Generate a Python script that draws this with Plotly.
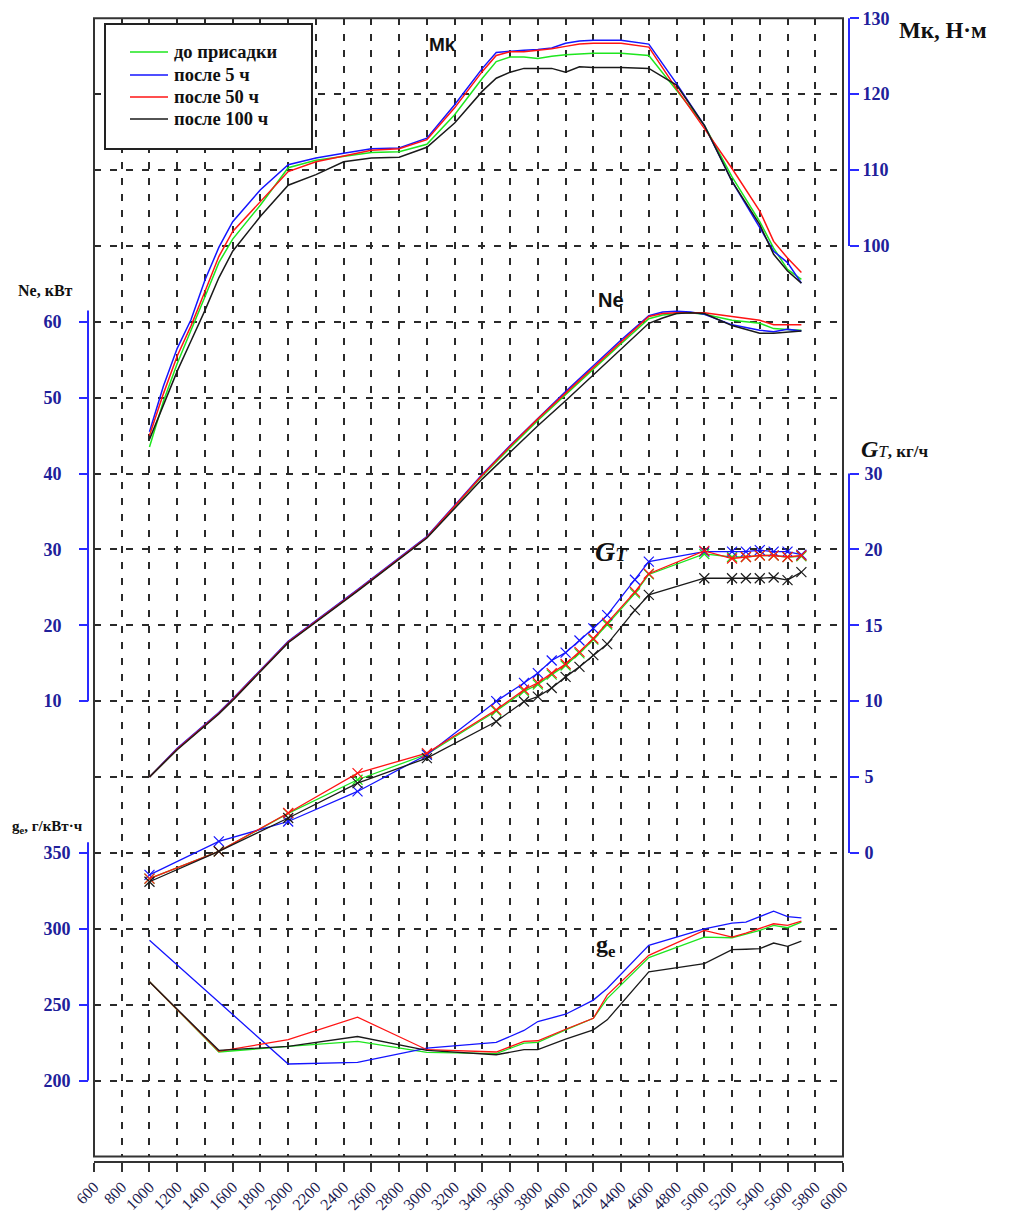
import plotly.graph_objects as go

W, H = 1010, 1214
def px(x): return x / W
def py(y): return 1 - y / H

# ---------------- DATA ----------------
series_names = ["до присадки", "после 5 ч", "после 50 ч", "после 100 ч"]

rpm_mk = [1000, 1100, 1200, 1300, 1400, 1500, 1600, 1800, 2000, 2200, 2400, 2600, 2800, 3000,
          3200, 3400, 3500, 3600, 3700, 3800, 3900, 4000, 4100, 4200, 4400, 4600, 4800, 5000,
          5200, 5400, 5500, 5600, 5700]
mk_green = [73.5, 79.5, 84.5, 88.8, 93.3, 97.8, 100.9, 105.4, 110.3, 111.3, 111.8, 112.3, 112.4, 113.4,
            117.3, 122.1, 124.3, 124.9, 124.9, 124.7, 125.0, 125.2, 125.3, 125.4, 125.4, 125.1, 120.5, 115.9,
            109.1, 103.2, 99.7, 96.9, 95.6]
mk_blue = [75.5, 81.5, 86.5, 90.3, 95.5, 99.8, 103.2, 107.4, 110.7, 111.6, 112.2, 112.8, 112.9, 114.2,
           118.6, 123.4, 125.5, 125.7, 125.8, 125.9, 126.1, 126.7, 127.0, 127.1, 127.1, 126.6, 121.4, 115.9,
           108.5, 102.4, 99.3, 97.8, 95.1]
mk_red = [75.0, 80.5, 85.5, 89.5, 94.0, 98.6, 101.9, 105.9, 109.8, 111.1, 111.9, 112.6, 112.8, 114.0,
          118.2, 123.0, 125.1, 125.6, 125.6, 125.8, 126.0, 126.3, 126.6, 126.7, 126.7, 126.2, 120.7, 115.5,
          110.2, 104.6, 100.6, 98.4, 96.5]
mk_black = [74.5, 79.0, 83.5, 87.5, 91.5, 95.8, 99.3, 103.9, 108.0, 109.4, 111.1, 111.6, 111.7, 113.0,
            116.2, 120.4, 122.1, 122.9, 123.4, 123.4, 123.4, 122.9, 123.6, 123.5, 123.5, 123.4, 121.2, 115.9,
            108.5, 102.8, 98.9, 96.7, 95.1]

rpm_ne = [1000, 1200, 1500, 1600, 2000, 2500, 3000, 3200, 3400, 3600, 3800, 4000, 4200, 4400,
          4600, 4700, 4800, 4900, 5000, 5200, 5400, 5500, 5600, 5700]
ne_green = [0.0, 3.7, 8.4, 10.2, 17.8, 24.6, 31.6, 35.6, 39.7, 43.4, 47.0, 50.4, 53.8, 57.1,
            60.4, 60.9, 61.1, 61.2, 61.0, 60.2, 59.8, 59.1, 59.0, 58.9]
ne_blue = [0.0, 3.8, 8.5, 10.3, 17.9, 24.7, 31.7, 35.8, 39.9, 43.7, 47.3, 50.8, 54.2, 57.6,
           60.8, 61.3, 61.4, 61.3, 61.0, 59.6, 58.9, 58.7, 59.0, 58.8]
ne_red = [0.0, 3.7, 8.4, 10.2, 17.8, 24.6, 31.6, 35.7, 39.8, 43.6, 47.2, 50.6, 54.0, 57.4,
          60.7, 61.1, 61.2, 61.2, 61.2, 60.7, 60.2, 59.6, 59.6, 59.6]
ne_black = [0.0, 3.6, 8.3, 10.1, 17.7, 24.5, 31.5, 35.4, 39.3, 42.8, 46.3, 49.6, 53.0, 56.3,
            59.8, 60.5, 61.1, 61.2, 61.1, 59.5, 58.5, 58.5, 58.7, 58.8]

rpm_gt = [1000, 1500, 2000, 2500, 3000, 3500, 3700, 3800, 3900, 4000, 4100, 4200, 4300, 4500,
          4600, 5000, 5200, 5300, 5400, 5500, 5600, 5700]
gt_green = [-1.7, 0.1, 2.6, 4.82, 6.5, 9.35, 10.65, 11.1, 11.75, 12.35, 13.15, 14.05, 15.05, 17.1,
            18.35, 19.7, 19.5, 19.5, 19.6, 19.6, 19.5, 19.55]
gt_blue = [-1.45, 0.76, 2.07, 4.05, 6.47, 10.0, 11.2, 11.85, 12.68, 13.2, 14.0, 14.8, 15.67, 18.0,
           19.2, 19.85, 19.85, 19.85, 19.95, 19.85, 19.85, 19.65]
gt_red = [-1.7, 0.1, 2.63, 5.26, 6.58, 9.43, 10.75, 11.2, 11.85, 12.45, 13.25, 14.13, 15.16, 17.2,
          18.4, 19.9, 19.4, 19.5, 19.6, 19.6, 19.5, 19.6]
gt_black = [-1.9, 0.1, 2.3, 4.6, 6.25, 8.66, 9.98, 10.3, 10.87, 11.6, 12.26, 13.03, 13.76, 16.0,
            17.0, 18.1, 18.1, 18.1, 18.1, 18.15, 17.98, 18.5]

rpm_ge = [1000, 1500, 2000, 2500, 3000, 3500, 3700, 3800, 4000, 4200, 4300, 4600, 5000, 5200,
          5300, 5400, 5500, 5600, 5700]
ge_green = [265.1, 218.8, 222.5, 225.8, 218.6, 217.7, 224.7, 225.1, 233.4, 241.0, 254.0, 281.0, 294.5,
            294.1, 296.5, 298.9, 302.2, 300.7, 304.4]
ge_blue = [292.4, 251.5, 210.9, 212.0, 221.4, 225.1, 233.0, 238.9, 243.7, 253.0, 260.7, 289.1, 300.0,
           303.7, 304.4, 308.0, 311.6, 308.0, 307.2]
ge_red = [265.1, 219.2, 227.0, 241.7, 220.3, 218.8, 225.8, 226.2, 233.8, 241.0, 256.3, 282.5, 298.9,
          294.5, 297.2, 300.0, 303.3, 302.2, 305.0]
ge_black = [265.1, 219.9, 222.5, 229.0, 219.9, 217.0, 220.3, 220.3, 227.3, 233.4, 240.0, 271.6, 277.1,
            286.2, 286.5, 286.9, 290.6, 288.4, 291.9]

x_ticks = list(range(600, 6001, 200))
ne_ticks = [10, 20, 30, 40, 50, 60]
mk_ticks = [100, 110, 120, 130]
gt_tickvals = [0, 5, 10, 15, 20, 25]
gt_ticktext = ["0", "5", "10", "15", "20", "30"]
ge_ticks = [200, 250, 300, 350]

# ---------------- STYLE ----------------
COLORS = ["#1ee61e", "#1414ff", "#ff1414", "#1a1a1a"]
SERIF = "Liberation Serif"
SANS = "Liberation Sans"
AXBLUE = "#2a2aff"
TICKTXT = "#20209a"

mk_all = [mk_green, mk_blue, mk_red, mk_black]
ne_all = [ne_green, ne_blue, ne_red, ne_black]
gt_all = [gt_green, gt_blue, gt_red, gt_black]
ge_all = [ge_green, ge_blue, ge_red, ge_black]

fig = go.Figure()
# empty trace so that the base grid subplot (x / y) exists
fig.add_trace(go.Scatter(x=[], y=[], xaxis="x", yaxis="y", showlegend=False, hoverinfo="skip"))
for i, name in enumerate(series_names):
    c = COLORS[i]
    fig.add_trace(go.Scatter(x=rpm_mk, y=mk_all[i], yaxis="y3", mode="lines", name=name,
                             legendgroup=name, showlegend=False, line=dict(color=c, width=1.5)))
for i, name in enumerate(series_names):
    c = COLORS[i]
    fig.add_trace(go.Scatter(x=rpm_ne, y=ne_all[i], yaxis="y2", mode="lines", name=name,
                             legendgroup=name, showlegend=False, line=dict(color=c, width=1.5)))
for i, name in enumerate(series_names):
    c = COLORS[i]
    fig.add_trace(go.Scatter(x=rpm_gt, y=gt_all[i], yaxis="y4", mode="lines+markers", name=name,
                             legendgroup=name, showlegend=False, line=dict(color=c, width=1.3),
                             marker=dict(symbol="x-thin", size=10, line=dict(color=c, width=1.2))))
for i, name in enumerate(series_names):
    c = COLORS[i]
    fig.add_trace(go.Scatter(x=rpm_ge, y=ge_all[i], yaxis="y5", mode="lines", name=name,
                             legendgroup=name, showlegend=False, line=dict(color=c, width=1.3)))

dom_x = [px(94), px(843)]
dom_y = [py(1156.4), py(18.3)]
grid = dict(showgrid=True, gridcolor="#2a2a2a", gridwidth=1.6, griddash="7px,9px")
tickfont_y = dict(family=SERIF, size=18, color=TICKTXT, weight="bold")

def side_axis(pos, side, rng, tickvals, standoff, ticktext=None):
    d = dict(overlaying="y", anchor="free", position=pos, side=side, range=rng, domain=dom_y,
             tickvals=tickvals, ticks="outside", ticklen=9, tickwidth=2, tickcolor=AXBLUE,
             tickfont=tickfont_y, ticklabelstandoff=standoff, showgrid=False, zeroline=False,
             showline=False, automargin=False)
    if ticktext is not None:
        d["ticktext"] = ticktext
    return d

fig.update_layout(
    template="none",
    width=W, height=H,
    margin=dict(l=0, r=0, t=0, b=0),
    paper_bgcolor="white", plot_bgcolor="rgba(0,0,0,0)",
    showlegend=False,
    xaxis=dict(domain=dom_x, range=[600, 6000], tickvals=x_ticks, anchor="free",
               position=py(1161.5), showline=True, linecolor="#333", linewidth=2,
               ticks="outside", ticklen=9, tickwidth=2, tickcolor="#333", tickangle=-45,
               tickfont=dict(family=SERIF, size=16, color="#1c1c50"),
               zeroline=False, automargin=False, **grid),
    yaxis=dict(domain=dom_y, range=[-50, 100], tick0=0, dtick=10, showticklabels=False,
               ticks="", zeroline=False, showline=False, automargin=False, **grid),
    yaxis2=side_axis(px(88), "left", [-50, 100], ne_ticks, 14),
    yaxis3=side_axis(px(849), "right", [-20, 130], mk_ticks, 0),
    yaxis4=side_axis(px(849), "right", [-20, 55], gt_tickvals, 2, gt_ticktext),
    yaxis5=side_axis(px(88), "left", [150, 900], ge_ticks, 5),
)

# legend (drawn box, sample lines, labels)
leg_y = [52, 75, 97, 119]
shapes = [
    dict(type="rect", xref="paper", yref="paper", x0=dom_x[0], x1=dom_x[1], y0=dom_y[0], y1=dom_y[1],
         line=dict(color="#333", width=2), layer="above"),
    dict(type="rect", xref="paper", yref="paper", x0=px(105), x1=px(312), y0=py(149), y1=py(24),
         line=dict(color="#222", width=2), fillcolor="white", layer="above"),
    dict(type="line", xref="paper", yref="y2", x0=px(88), x1=px(88), y0=10, y1=61.5,
         line=dict(color=AXBLUE, width=2)),
    dict(type="line", xref="paper", yref="y3", x0=px(849), x1=px(849), y0=100, y1=130.3,
         line=dict(color=AXBLUE, width=2)),
    dict(type="line", xref="paper", yref="y4", x0=px(849), x1=px(849), y0=0, y1=25,
         line=dict(color=AXBLUE, width=2)),
    dict(type="line", xref="paper", yref="y5", x0=px(88), x1=px(88), y0=200, y1=357,
         line=dict(color=AXBLUE, width=2)),
]
for i, yy in enumerate(leg_y):
    shapes.append(dict(type="line", xref="paper", yref="paper", x0=px(130), x1=px(168),
                       y0=py(yy), y1=py(yy), line=dict(color=COLORS[i], width=1.5), layer="above"))
fig.update_layout(shapes=shapes)

def ann(text, x, y, size, family=SERIF, xanchor="left", color="#111"):
    return dict(text=text, x=px(x), y=py(y), xref="paper", yref="paper", xanchor=xanchor,
                yanchor="middle", showarrow=False, font=dict(family=family, size=size, color=color))

annotations = [ann("<b>%s</b>" % n, 172, leg_y[i], 18.5) for i, n in enumerate(series_names)]
annotations += [
    ann("<b>Мк, Н·м</b>", 897, 30, 23),
    ann("<b>Ne, кВт</b>", 16, 290, 16),
    ann("<b><i>G</i></b><i><span style='font-size:17px'>T</span></i><b><span style='font-size:17px'>, кг/ч</span></b>",
        859, 449, 24),
    ann("<b>g<sub>e</sub>, г/кВт·ч</b>", 10, 827, 15),
    ann("<b>Mk</b>", 442, 44, 19, family=SANS, xanchor="center"),
    ann("<b>Ne</b>", 611, 300, 20, family=SANS, xanchor="center"),
    ann("<b><i>G</i></b><b><i><span style='font-size:19px'>T</span></i></b>", 611, 551, 28, xanchor="center"),
    ann("<b>g<sub>e</sub></b>", 606, 946, 24, xanchor="center"),
]
fig.update_layout(annotations=annotations)

fig.write_html("out.html")
